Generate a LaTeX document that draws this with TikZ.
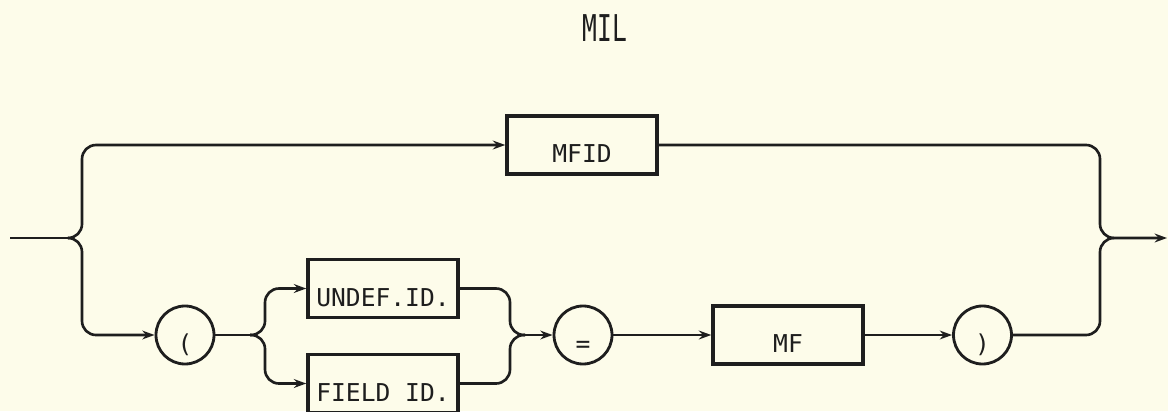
\documentclass[tikz,border=0pt]{standalone}
\usepackage{fontspec}
\setmonofont{DejaVu Sans Mono}
\usetikzlibrary{arrows.meta}
\definecolor{papel}{RGB}{253,252,234}
\definecolor{tinta}{RGB}{30,30,30}

\begin{document}
\begin{tikzpicture}[>={Stealth[length=7pt,width=5pt]},
  font=\ttfamily\fontsize{14}{16}\selectfont, text=tinta,
  linea/.style={line width=1.5pt, draw=tinta, rounded corners=0.28cm},
  caja/.style={draw=tinta, line width=2pt, minimum width=3cm,
    minimum height=1.16cm, text height=20pt, text depth=0pt, inner sep=0pt},
  circulo/.style={circle, draw=tinta, line width=1.6pt, minimum size=1.16cm,
    text height=20pt, text depth=0pt, inner sep=0pt}]
  \fill[papel] (0,0) rectangle (23.36,8.22);
  \useasboundingbox (0,0) rectangle (23.36,8.22);
  \node[yscale=1.5, transform shape] (titulo) at (12.1,7.65) {MIL};
  % Cajas y circulos
  \node[caja] (mfid) at (11.64,5.32) {MFID};
  \node[circulo] (abre) at (3.7,1.52) {(};
  \node[caja] (undef) at (7.66,2.45) {UNDEF.ID.};
  \node[caja] (field) at (7.66,0.55) {FIELD ID.};
  \node[circulo] (igual) at (11.66,1.52) {=};
  \node[caja] (mf) at (15.76,1.52) {MF};
  \node[circulo] (cierra) at (19.65,1.52) {)};
  % Puntos de bifurcacion
  \coordinate (entrada) at (0.2,3.46);
  \coordinate (salida) at (23.34,3.46);
  \coordinate (bifi) at (1.36,3.46);
  \coordinate (bifd) at (22.28,3.46);
  \coordinate (bifa) at (5.0,1.52);
  \coordinate (bifb) at (10.5,1.52);
  % Conectores
  \draw[linea] (entrada) -- (bifi);
  \draw[linea,->] (bifi) -- ++(0.28,0) |- (mfid);
  \draw[linea,->] (bifi) -- ++(0.28,0) |- (abre);
  \draw[linea] (abre) -- (bifa);
  \draw[linea,->] (bifa) -- ++(0.3,0) |- (undef);
  \draw[linea,->] (bifa) -- ++(0.3,0) |- (field);
  \draw[linea] (undef) -| ([xshift=-0.3cm]bifb) -- (bifb);
  \draw[linea] (field) -| ([xshift=-0.3cm]bifb) -- (bifb);
  \draw[linea,->] (bifb) -- (igual);
  \draw[linea,->] (igual) -- (mf);
  \draw[linea,->] (mf) -- (cierra);
  \draw[linea,->] (mfid) -| ([xshift=-0.28cm]bifd) -- (salida);
  \draw[linea] (cierra) -| ([xshift=-0.28cm]bifd) -- (bifd);
\end{tikzpicture}
\end{document}
